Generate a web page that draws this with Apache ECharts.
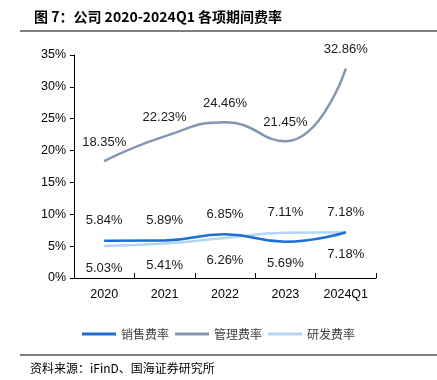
<!DOCTYPE html>
<html>
<head>
<meta charset="utf-8">
<script src="https://cdn.jsdelivr.net/npm/echarts@6/dist/echarts.min.js"></script>
<style>
html,body{margin:0;padding:0;background:#fff;}
#chart{width:437px;height:380px;}
</style>
</head>
<body>
<div id="chart"></div>
<script>
// ---- data ----
const categories = ['2020', '2021', '2022', '2023', '2024Q1'];
const salesRate = [5.84, 5.89, 6.85, 5.69, 7.18];      // 销售费率
const mgmtRate = [18.35, 22.23, 24.46, 21.45, 32.86];  // 管理费率
const rdRate = [5.03, 5.41, 6.26, 7.11, 7.18];         // 研发费率
const seriesNames = ['销售费率', '管理费率', '研发费率'];
const yTicks = [0, 5, 10, 15, 20, 25, 30, 35];

const titleText = '图 7：公司 2020-2024Q1 各项期间费率';
const sourceText = '资料来源：iFinD、国海证券研究所';

// ---- styles ----
const colors = ['#1c6fd4', '#8497b0', '#b5d5f5'];
const numFont = 'Liberation Sans, Arial, sans-serif';
const cjkFont = 'Noto Sans CJK SC, sans-serif';

function labelled(values, other, preferTop) {
  return values.map((v, i) => {
    const top = v > other[i] || (v === other[i] && preferTop);
    return {
      value: v,
      label: {
        show: true,
        position: top ? 'top' : 'bottom',
        distance: top ? 13 : 15
      }
    };
  });
}

const chart = echarts.init(document.getElementById('chart'), null, {renderer: 'canvas'});

const baseLabel = {
  show: true,
  formatter: p => Number(p.value).toFixed(2) + '%',
  color: '#1a1a1a',
  fontSize: 13,
  fontFamily: numFont
};

function lineSeries(name, data, color, label) {
  return {
    name: name, type: 'line', smooth: 0.5,
    symbol: 'circle', symbolSize: 1, showSymbol: true, showAllSymbol: true,
    data: data,
    lineStyle: {color: color, width: 2.5},
    itemStyle: {color: color},
    label: label,
    labelLayout: {hideOverlap: false},
    emphasis: {disabled: true}
  };
}

chart.setOption({
  animation: false,
  backgroundColor: '#fff',
  title: {
    text: titleText,
    left: 29,
    top: 5,
    textStyle: {fontSize: 14, fontWeight: 'bold', color: '#000', fontFamily: cjkFont}
  },
  graphic: [
    {type: 'line', shape: {x1: 20, y1: 31, x2: 437, y2: 31}, style: {stroke: '#000', lineWidth: 1}},
    {type: 'line', shape: {x1: 20, y1: 355, x2: 437, y2: 355}, style: {stroke: '#000', lineWidth: 1}},
    {type: 'text', left: 30, top: 362, style: {text: sourceText, font: '12px ' + cjkFont, fill: '#000'}}
  ],
  legend: {
    data: seriesNames,
    left: 'center',
    top: 323,
    icon: 'rect',
    itemWidth: 34,
    itemHeight: 3,
    itemGap: 6,
    textStyle: {fontSize: 12, color: '#404040', fontFamily: cjkFont}
  },
  grid: {left: 74, right: 61, top: 55, bottom: 102, containLabel: false},
  xAxis: {
    type: 'category',
    data: categories,
    boundaryGap: true,
    axisLine: {lineStyle: {color: '#000', width: 1}},
    axisTick: {show: true, inside: true, length: 5, alignWithLabel: false, lineStyle: {color: '#000'}},
    axisLabel: {color: '#000', fontSize: 12.5, fontFamily: numFont, margin: 10}
  },
  yAxis: {
    type: 'value',
    min: yTicks[0],
    max: yTicks[yTicks.length - 1],
    interval: yTicks[1] - yTicks[0],
    axisLine: {show: true, lineStyle: {color: '#000', width: 1}},
    axisTick: {show: true, length: 4, lineStyle: {color: '#000'}},
    splitLine: {show: false},
    axisLabel: {color: '#000', fontSize: 12.5, fontFamily: numFont, margin: 8, formatter: v => v + '%'}
  },
  series: [
    lineSeries(seriesNames[1], mgmtRate, colors[1], Object.assign({}, baseLabel, {position: 'top', distance: 12})),
    lineSeries(seriesNames[2], labelled(rdRate, salesRate, false), colors[2], baseLabel),
    lineSeries(seriesNames[0], labelled(salesRate, rdRate, true), colors[0], baseLabel)
  ]
});
</script>
</body>
</html>
